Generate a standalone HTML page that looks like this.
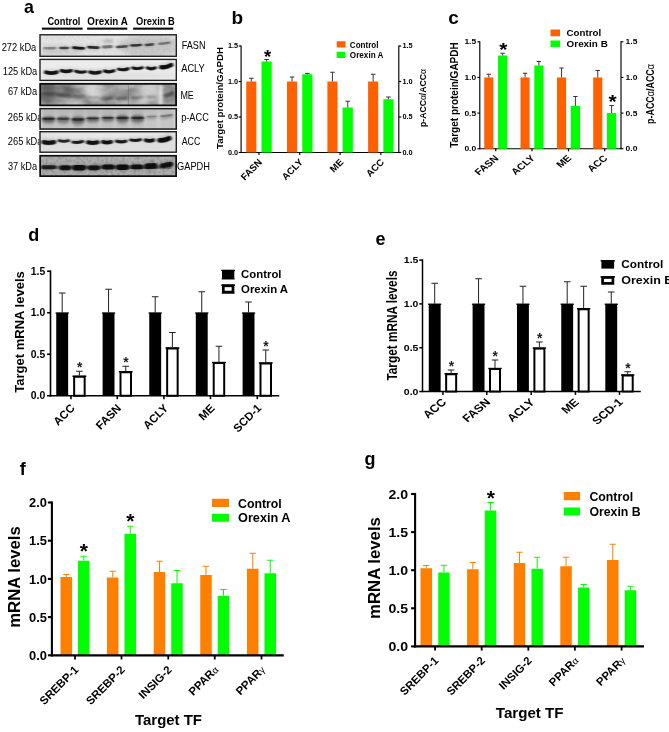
<!DOCTYPE html>
<html lang="en"><head><meta charset="utf-8"><title>Figure</title>
<style>html,body{margin:0;padding:0;background:#fff}svg{display:block}text{font-family:'Liberation Sans', Arial, Helvetica, sans-serif}</style>
</head><body>
<svg width="669" height="732" viewBox="0 0 669 732">
<rect width="669" height="732" fill="#fff"/>
<defs>
<filter id="b1" filterUnits="userSpaceOnUse" x="20" y="25" width="175" height="165"><feGaussianBlur stdDeviation="1.1 0.7"/></filter>
<filter id="b2" filterUnits="userSpaceOnUse" x="20" y="25" width="175" height="165"><feGaussianBlur stdDeviation="1.6 1.2"/></filter>
<filter id="b3" filterUnits="userSpaceOnUse" x="20" y="25" width="175" height="165"><feGaussianBlur stdDeviation="3 2.2"/></filter>
<filter id="nz" x="0" y="0" width="100%" height="100%"><feTurbulence type="fractalNoise" baseFrequency="0.05 0.09" numOctaves="3" seed="7" result="n"/><feColorMatrix in="n" type="matrix" values="0 0 0 0 0  0 0 0 0 0  0 0 0 0 0  1.9 0 0 0 -0.62"/></filter>
<filter id="nz2" x="0" y="0" width="100%" height="100%"><feTurbulence type="fractalNoise" baseFrequency="0.35" numOctaves="2" seed="3" result="n"/><feColorMatrix in="n" type="matrix" values="0 0 0 0 0  0 0 0 0 0  0 0 0 0 0  1.2 0 0 0 -0.45"/></filter>
</defs>
<text x="24" y="12.6" font-size="17.8" font-weight="bold" text-anchor="start" fill="#000">a</text>
<text x="47.4" y="24.8" font-size="11" font-weight="bold" text-anchor="start" fill="#000" textLength="33" lengthAdjust="spacingAndGlyphs">Control</text>
<text x="87.3" y="24.8" font-size="11" font-weight="bold" text-anchor="start" fill="#000" textLength="40.5" lengthAdjust="spacingAndGlyphs">Orexin A</text>
<text x="136" y="24.8" font-size="11" font-weight="bold" text-anchor="start" fill="#000" textLength="38.8" lengthAdjust="spacingAndGlyphs">Orexin B</text>
<rect x="41.90" y="27.60" width="40.70" height="2.10" fill="#0a0a0a"/>
<rect x="87.10" y="27.60" width="40.20" height="2.10" fill="#0a0a0a"/>
<rect x="133.10" y="27.60" width="40.20" height="2.10" fill="#0a0a0a"/>
<clipPath id="cb0"><rect x="39.8" y="34.6" width="136.70" height="21.90"/></clipPath>
<rect x="39.80" y="34.60" width="136.70" height="21.90" fill="#e3e3e3"/>
<g clip-path="url(#cb0)">
<ellipse cx="150" cy="46" rx="30" ry="12" fill="#999" opacity="0.35" filter="url(#b3)"/>
<ellipse cx="60" cy="52" rx="20" ry="5" fill="#aaa" opacity="0.3" filter="url(#b3)"/>
<ellipse cx="108" cy="41" rx="5" ry="1.4" fill="#666" opacity="0.4" filter="url(#b2)"/>
<rect x="39.8" y="34.6" width="136.70" height="21.9" fill="#444" filter="url(#nz2)" opacity="0.09"/>
<path d="M46.3,48.20 Q50.0,48.60 53.6,48.20" fill="none" stroke="#555" stroke-width="5.720000000000001" stroke-linecap="round" opacity="0.07919999999999999" filter="url(#b2)"/>
<path d="M44.7,48.00 Q50.0,48.40 55.2,48.00" fill="none" stroke="#0a0a0a" stroke-width="2.6" stroke-linecap="round" opacity="0.36" filter="url(#b1)"/>
<path d="M61.8,48.00 Q64.2,48.40 66.7,48.00" fill="none" stroke="#555" stroke-width="5.06" stroke-linecap="round" opacity="0.15839999999999999" filter="url(#b2)"/>
<path d="M60.4,47.80 Q64.2,48.20 68.0,47.80" fill="none" stroke="#0a0a0a" stroke-width="2.3" stroke-linecap="round" opacity="0.72" filter="url(#b1)"/>
<path d="M75.1,47.80 Q78.5,48.60 81.9,48.60" fill="none" stroke="#555" stroke-width="5.940000000000001" stroke-linecap="round" opacity="0.209" filter="url(#b2)"/>
<path d="M73.4,47.60 Q78.5,48.40 83.6,48.40" fill="none" stroke="#0a0a0a" stroke-width="2.7" stroke-linecap="round" opacity="0.95" filter="url(#b1)"/>
<path d="M90.2,47.40 Q93.3,48.00 96.5,47.80" fill="none" stroke="#555" stroke-width="6.16" stroke-linecap="round" opacity="0.187" filter="url(#b2)"/>
<path d="M88.5,47.20 Q93.3,47.80 98.2,47.60" fill="none" stroke="#0a0a0a" stroke-width="2.8" stroke-linecap="round" opacity="0.85" filter="url(#b1)"/>
<path d="M105.2,47.20 Q107.3,47.40 109.5,46.80" fill="none" stroke="#555" stroke-width="6.6000000000000005" stroke-linecap="round" opacity="0.1056" filter="url(#b2)"/>
<path d="M103.4,47.00 Q107.3,47.20 111.3,46.60" fill="none" stroke="#0a0a0a" stroke-width="3.0" stroke-linecap="round" opacity="0.48" filter="url(#b1)"/>
<path d="M118.7,47.20 Q121.9,47.20 125.2,46.40" fill="none" stroke="#555" stroke-width="5.5" stroke-linecap="round" opacity="0.1452" filter="url(#b2)"/>
<path d="M117.2,47.00 Q121.9,47.00 126.7,46.20" fill="none" stroke="#0a0a0a" stroke-width="2.5" stroke-linecap="round" opacity="0.66" filter="url(#b1)"/>
<path d="M132.6,45.60 Q136.1,45.70 139.5,45.00" fill="none" stroke="#555" stroke-width="5.06" stroke-linecap="round" opacity="0.18039999999999998" filter="url(#b2)"/>
<path d="M131.2,45.40 Q136.1,45.50 140.8,44.80" fill="none" stroke="#0a0a0a" stroke-width="2.3" stroke-linecap="round" opacity="0.82" filter="url(#b1)"/>
<path d="M147.4,45.10 Q149.4,45.20 151.4,44.50" fill="none" stroke="#555" stroke-width="5.5" stroke-linecap="round" opacity="0.1496" filter="url(#b2)"/>
<path d="M145.9,44.90 Q149.4,45.00 152.9,44.30" fill="none" stroke="#0a0a0a" stroke-width="2.5" stroke-linecap="round" opacity="0.68" filter="url(#b1)"/>
<path d="M160.5,44.00 Q164.2,43.80 168.0,42.80" fill="none" stroke="#555" stroke-width="5.06" stroke-linecap="round" opacity="0.0924" filter="url(#b2)"/>
<path d="M159.2,43.80 Q164.2,43.60 169.3,42.60" fill="none" stroke="#0a0a0a" stroke-width="2.3" stroke-linecap="round" opacity="0.42" filter="url(#b1)"/>
</g>
<rect x="40.00" y="34.80" width="136.30" height="21.50" fill="none" stroke="#222" stroke-width="1.4"/>
<clipPath id="cb1"><rect x="39.8" y="59.2" width="136.70" height="21.40"/></clipPath>
<rect x="39.80" y="59.20" width="136.70" height="21.40" fill="#ececec"/>
<g clip-path="url(#cb1)">
<ellipse cx="108" cy="76" rx="70" ry="4" fill="#ccc" opacity="0.35" filter="url(#b3)"/>
<path d="M47.0,71.40 Q51.4,73.40 55.7,71.40" fill="none" stroke="#444" stroke-width="5.940000000000001" stroke-linecap="round" opacity="0.14" filter="url(#b2)"/>
<path d="M45.9,72.30 Q51.4,74.10 56.8,72.30" fill="none" stroke="#0a0a0a" stroke-width="3.7840000000000003" stroke-linecap="round" opacity="0.97" filter="url(#b1)"/>
<path d="M62.2,69.70 Q66.2,71.70 70.3,69.70" fill="none" stroke="#444" stroke-width="5.13" stroke-linecap="round" opacity="0.14" filter="url(#b2)"/>
<path d="M61.2,70.60 Q66.2,72.40 71.3,70.60" fill="none" stroke="#0a0a0a" stroke-width="3.268" stroke-linecap="round" opacity="0.97" filter="url(#b1)"/>
<path d="M76.3,70.20 Q80.5,72.50 84.7,70.80" fill="none" stroke="#444" stroke-width="4.59" stroke-linecap="round" opacity="0.14" filter="url(#b2)"/>
<path d="M75.5,71.10 Q80.5,73.20 85.5,71.70" fill="none" stroke="#0a0a0a" stroke-width="2.924" stroke-linecap="round" opacity="0.95" filter="url(#b1)"/>
<path d="M91.0,71.20 Q95.1,73.20 99.2,71.20" fill="none" stroke="#444" stroke-width="5.4" stroke-linecap="round" opacity="0.14" filter="url(#b2)"/>
<path d="M90.0,72.10 Q95.1,73.90 100.2,72.10" fill="none" stroke="#0a0a0a" stroke-width="3.44" stroke-linecap="round" opacity="0.96" filter="url(#b1)"/>
<path d="M105.6,70.10 Q109.2,72.00 112.8,69.90" fill="none" stroke="#444" stroke-width="5.13" stroke-linecap="round" opacity="0.14" filter="url(#b2)"/>
<path d="M104.6,71.00 Q109.2,72.70 113.8,70.80" fill="none" stroke="#0a0a0a" stroke-width="3.268" stroke-linecap="round" opacity="0.97" filter="url(#b1)"/>
<path d="M119.4,68.20 Q123.3,70.00 127.2,67.80" fill="none" stroke="#444" stroke-width="4.86" stroke-linecap="round" opacity="0.14" filter="url(#b2)"/>
<path d="M118.5,69.10 Q123.3,70.70 128.1,68.70" fill="none" stroke="#0a0a0a" stroke-width="3.096" stroke-linecap="round" opacity="0.97" filter="url(#b1)"/>
<path d="M133.5,66.90 Q137.6,68.80 141.6,66.70" fill="none" stroke="#444" stroke-width="4.455" stroke-linecap="round" opacity="0.14" filter="url(#b2)"/>
<path d="M132.7,67.80 Q137.6,69.50 142.4,67.60" fill="none" stroke="#0a0a0a" stroke-width="2.8379999999999996" stroke-linecap="round" opacity="0.97" filter="url(#b1)"/>
<path d="M148.3,67.00 Q151.3,69.00 154.3,67.00" fill="none" stroke="#444" stroke-width="4.995000000000001" stroke-linecap="round" opacity="0.14" filter="url(#b2)"/>
<path d="M147.4,67.90 Q151.3,69.70 155.2,67.90" fill="none" stroke="#0a0a0a" stroke-width="3.182" stroke-linecap="round" opacity="0.97" filter="url(#b1)"/>
<path d="M162.5,66.30 Q166.2,67.20 169.9,64.10" fill="none" stroke="#444" stroke-width="6.75" stroke-linecap="round" opacity="0.14" filter="url(#b2)"/>
<path d="M161.2,67.20 Q166.2,67.90 171.2,65.00" fill="none" stroke="#0a0a0a" stroke-width="4.3" stroke-linecap="round" opacity="1" filter="url(#b1)"/>
</g>
<rect x="40.00" y="59.40" width="136.30" height="21.00" fill="none" stroke="#222" stroke-width="1.4"/>
<clipPath id="cb2"><rect x="39.8" y="83.4" width="136.70" height="22.40"/></clipPath>
<rect x="39.80" y="83.40" width="136.70" height="22.40" fill="#b2b2b2"/>
<g clip-path="url(#cb2)">
<rect x="39.8" y="83.4" width="136.70" height="22.4" fill="#222" filter="url(#nz)" opacity="0.45"/>
<ellipse cx="48" cy="93" rx="9" ry="12" fill="#333" opacity="0.55" filter="url(#b3)"/>
<ellipse cx="66" cy="89" rx="8" ry="6" fill="#444" opacity="0.45" filter="url(#b3)"/>
<ellipse cx="93" cy="92" rx="10" ry="9" fill="#eee" opacity="0.6" filter="url(#b3)"/>
<ellipse cx="108" cy="90" rx="8" ry="6" fill="#ddd" opacity="0.4" filter="url(#b3)"/>
<ellipse cx="150" cy="93" rx="10" ry="10" fill="#e8e8e8" opacity="0.55" filter="url(#b3)"/>
<ellipse cx="160.8" cy="95" rx="2.2" ry="12" fill="#fff" opacity="0.7" filter="url(#b2)"/>
<ellipse cx="169" cy="95" rx="5" ry="10" fill="#666" opacity="0.3" filter="url(#b3)"/>
<ellipse cx="120" cy="92" rx="8" ry="10" fill="#ccc" opacity="0.3" filter="url(#b3)"/>
<ellipse cx="140" cy="93" rx="8" ry="8" fill="#ddd" opacity="0.35" filter="url(#b3)"/>
<ellipse cx="75" cy="102" rx="12" ry="3" fill="#ddd" opacity="0.4" filter="url(#b3)"/>
<ellipse cx="134" cy="102" rx="14" ry="3" fill="#ddd" opacity="0.4" filter="url(#b3)"/>
<line x1="128.40" y1="85.00" x2="128.40" y2="105.00" stroke="#555" stroke-width="0.4"/>
<path d="M42.7,93.20 Q48.2,94.10 53.8,93.80" fill="none" stroke="#0a0a0a" stroke-width="2.4" stroke-linecap="round" opacity="0.42" filter="url(#b2)"/>
<path d="M57.8,94.80 Q63.2,95.70 68.7,95.40" fill="none" stroke="#0a0a0a" stroke-width="2.6" stroke-linecap="round" opacity="0.55" filter="url(#b2)"/>
<path d="M73.1,96.50 Q78.5,97.30 83.9,96.90" fill="none" stroke="#0a0a0a" stroke-width="2.2" stroke-linecap="round" opacity="0.4" filter="url(#b2)"/>
<path d="M88.0,97.30 Q93.0,97.90 98.0,97.30" fill="none" stroke="#0a0a0a" stroke-width="2.0" stroke-linecap="round" opacity="0.3" filter="url(#b2)"/>
<path d="M102.2,98.10 Q107.0,98.70 111.8,98.10" fill="none" stroke="#0a0a0a" stroke-width="2.4" stroke-linecap="round" opacity="0.36" filter="url(#b2)"/>
<path d="M117.3,98.30 Q122.0,98.70 126.7,97.90" fill="none" stroke="#0a0a0a" stroke-width="2.6" stroke-linecap="round" opacity="0.55" filter="url(#b2)"/>
<path d="M132.0,97.60 Q137.2,97.90 142.5,97.00" fill="none" stroke="#0a0a0a" stroke-width="2.0" stroke-linecap="round" opacity="0.38" filter="url(#b2)"/>
<path d="M147.0,97.00 Q150.5,97.50 154.0,96.80" fill="none" stroke="#0a0a0a" stroke-width="2.0" stroke-linecap="round" opacity="0.36" filter="url(#b2)"/>
<path d="M164.8,95.60 Q169.0,94.90 173.2,93.00" fill="none" stroke="#0a0a0a" stroke-width="2.6" stroke-linecap="round" opacity="0.6" filter="url(#b2)"/>
</g>
<rect x="40.20" y="83.80" width="135.90" height="21.60" fill="none" stroke="#0c0c0c" stroke-width="1.8"/>
<clipPath id="cb3"><rect x="39.8" y="108.4" width="136.70" height="20.90"/></clipPath>
<rect x="39.80" y="108.40" width="136.70" height="20.90" fill="#d4d4d4"/>
<g clip-path="url(#cb3)">
<ellipse cx="108" cy="111" rx="70" ry="3" fill="#aaa" opacity="0.35" filter="url(#b3)"/>
<rect x="41.8" y="109" width="13.5" height="20" fill="#777" opacity="0.24" filter="url(#b2)"/>
<path d="M46.3,119.90 Q48.5,120.10 50.8,119.90" fill="none" stroke="#3a3a3a" stroke-width="7.9799999999999995" stroke-linecap="round" opacity="0.342" filter="url(#b2)"/>
<path d="M44.2,119.40 Q48.5,119.60 52.9,119.40" fill="none" stroke="#0a0a0a" stroke-width="3.7800000000000002" stroke-linecap="round" opacity="0.49500000000000005" filter="url(#b2)"/>
<path d="M43.2,118.60 Q48.5,118.80 53.9,118.60" fill="none" stroke="#0a0a0a" stroke-width="1.8900000000000001" stroke-linecap="round" opacity="0.7200000000000001" filter="url(#b1)"/>
<rect x="56.5" y="109" width="13.5" height="20" fill="#777" opacity="0.21" filter="url(#b2)"/>
<path d="M61.6,120.00 Q63.2,120.20 64.9,120.00" fill="none" stroke="#3a3a3a" stroke-width="9.12" stroke-linecap="round" opacity="0.2508" filter="url(#b2)"/>
<path d="M59.2,119.50 Q63.2,119.70 67.3,119.50" fill="none" stroke="#0a0a0a" stroke-width="4.32" stroke-linecap="round" opacity="0.36300000000000004" filter="url(#b2)"/>
<path d="M58.1,118.70 Q63.2,118.90 68.4,118.70" fill="none" stroke="#0a0a0a" stroke-width="2.16" stroke-linecap="round" opacity="0.528" filter="url(#b1)"/>
<rect x="71.3" y="109" width="13.5" height="20" fill="#777" opacity="0.23" filter="url(#b2)"/>
<path d="M77.1,120.60 Q78.0,120.80 79.0,120.60" fill="none" stroke="#3a3a3a" stroke-width="10.639999999999999" stroke-linecap="round" opacity="0.30400000000000005" filter="url(#b2)"/>
<path d="M74.3,120.10 Q78.0,120.30 81.8,120.10" fill="none" stroke="#0a0a0a" stroke-width="5.04" stroke-linecap="round" opacity="0.44000000000000006" filter="url(#b2)"/>
<path d="M73.1,119.30 Q78.0,119.50 83.0,119.30" fill="none" stroke="#0a0a0a" stroke-width="2.52" stroke-linecap="round" opacity="0.6400000000000001" filter="url(#b1)"/>
<rect x="86.1" y="109" width="13.4" height="20" fill="#777" opacity="0.23" filter="url(#b2)"/>
<path d="M90.0,119.60 Q92.8,119.80 95.6,119.60" fill="none" stroke="#3a3a3a" stroke-width="6.84" stroke-linecap="round" opacity="0.30400000000000005" filter="url(#b2)"/>
<path d="M88.2,119.10 Q92.8,119.30 97.4,119.10" fill="none" stroke="#0a0a0a" stroke-width="3.24" stroke-linecap="round" opacity="0.44000000000000006" filter="url(#b2)"/>
<path d="M87.4,118.30 Q92.8,118.50 98.2,118.30" fill="none" stroke="#0a0a0a" stroke-width="1.62" stroke-linecap="round" opacity="0.6400000000000001" filter="url(#b1)"/>
<rect x="101.4" y="109" width="12.8" height="20" fill="#777" opacity="0.23" filter="url(#b2)"/>
<path d="M105.3,119.00 Q107.8,119.20 110.3,119.00" fill="none" stroke="#3a3a3a" stroke-width="6.84" stroke-linecap="round" opacity="0.3116" filter="url(#b2)"/>
<path d="M103.5,118.50 Q107.8,118.70 112.1,118.50" fill="none" stroke="#0a0a0a" stroke-width="3.24" stroke-linecap="round" opacity="0.451" filter="url(#b2)"/>
<path d="M102.7,117.70 Q107.8,117.90 112.9,117.70" fill="none" stroke="#0a0a0a" stroke-width="1.62" stroke-linecap="round" opacity="0.656" filter="url(#b1)"/>
<rect x="116.0" y="109" width="12.9" height="20" fill="#777" opacity="0.23" filter="url(#b2)"/>
<path d="M121.4,119.10 Q122.5,119.30 123.5,119.10" fill="none" stroke="#3a3a3a" stroke-width="9.879999999999999" stroke-linecap="round" opacity="0.3116" filter="url(#b2)"/>
<path d="M118.8,118.60 Q122.5,118.80 126.1,118.60" fill="none" stroke="#0a0a0a" stroke-width="4.680000000000001" stroke-linecap="round" opacity="0.451" filter="url(#b2)"/>
<path d="M117.7,117.80 Q122.5,118.00 127.2,117.80" fill="none" stroke="#0a0a0a" stroke-width="2.3400000000000003" stroke-linecap="round" opacity="0.656" filter="url(#b1)"/>
<rect x="130.8" y="109" width="13.5" height="20" fill="#777" opacity="0.23" filter="url(#b2)"/>
<path d="M136.2,119.10 Q137.6,119.30 138.9,119.10" fill="none" stroke="#3a3a3a" stroke-width="9.879999999999999" stroke-linecap="round" opacity="0.3116" filter="url(#b2)"/>
<path d="M133.6,118.60 Q137.6,118.80 141.5,118.60" fill="none" stroke="#0a0a0a" stroke-width="4.680000000000001" stroke-linecap="round" opacity="0.451" filter="url(#b2)"/>
<path d="M132.5,117.80 Q137.6,118.00 142.6,117.80" fill="none" stroke="#0a0a0a" stroke-width="2.3400000000000003" stroke-linecap="round" opacity="0.656" filter="url(#b1)"/>
<rect x="146.1" y="109" width="11.2" height="20" fill="#777" opacity="0.15" filter="url(#b2)"/>
<path d="M149.3,117.90 Q151.7,117.90 154.1,117.50" fill="none" stroke="#3a3a3a" stroke-width="5.319999999999999" stroke-linecap="round" opacity="0.11399999999999999" filter="url(#b2)"/>
<path d="M147.9,117.40 Q151.7,117.40 155.5,117.00" fill="none" stroke="#0a0a0a" stroke-width="2.52" stroke-linecap="round" opacity="0.165" filter="url(#b2)"/>
<path d="M147.4,116.60 Q151.7,116.60 156.0,116.20" fill="none" stroke="#0a0a0a" stroke-width="1.6" stroke-linecap="round" opacity="0.24" filter="url(#b1)"/>
<rect x="159.8" y="109" width="13.5" height="20" fill="#777" opacity="0.16" filter="url(#b2)"/>
<path d="M162.8,117.40 Q166.6,117.00 170.3,116.20" fill="none" stroke="#3a3a3a" stroke-width="4.9399999999999995" stroke-linecap="round" opacity="0.1368" filter="url(#b2)"/>
<path d="M161.5,116.90 Q166.6,116.50 171.6,115.70" fill="none" stroke="#0a0a0a" stroke-width="2.3400000000000003" stroke-linecap="round" opacity="0.198" filter="url(#b2)"/>
<path d="M161.1,116.10 Q166.6,115.70 172.0,114.90" fill="none" stroke="#0a0a0a" stroke-width="1.6" stroke-linecap="round" opacity="0.288" filter="url(#b1)"/>
</g>
<rect x="40.05" y="108.65" width="136.20" height="20.40" fill="none" stroke="#1a1a1a" stroke-width="1.5"/>
<clipPath id="cb4"><rect x="39.8" y="131.5" width="136.70" height="20.90"/></clipPath>
<rect x="39.80" y="131.50" width="136.70" height="20.90" fill="#dedede"/>
<g clip-path="url(#cb4)">
<ellipse cx="108" cy="136" rx="70" ry="3" fill="#fff" opacity="0.4" filter="url(#b3)"/>
<path d="M44.6,141.20 Q48.9,142.80 53.1,141.20" fill="none" stroke="#444" stroke-width="6.300000000000001" stroke-linecap="round" opacity="0.18" filter="url(#b2)"/>
<path d="M43.6,142.10 Q48.9,143.50 54.1,142.10" fill="none" stroke="#0a0a0a" stroke-width="4.2" stroke-linecap="round" opacity="0.97" filter="url(#b1)"/>
<path d="M59.8,139.80 Q63.8,141.40 67.9,139.80" fill="none" stroke="#444" stroke-width="4.35" stroke-linecap="round" opacity="0.18" filter="url(#b2)"/>
<path d="M59.1,140.70 Q63.8,142.10 68.6,140.70" fill="none" stroke="#0a0a0a" stroke-width="2.9" stroke-linecap="round" opacity="0.88" filter="url(#b1)"/>
<path d="M73.7,141.30 Q77.9,142.50 82.1,140.50" fill="none" stroke="#444" stroke-width="4.35" stroke-linecap="round" opacity="0.18" filter="url(#b2)"/>
<path d="M73.0,142.20 Q77.9,143.20 82.8,141.40" fill="none" stroke="#0a0a0a" stroke-width="2.9" stroke-linecap="round" opacity="0.93" filter="url(#b1)"/>
<path d="M89.2,141.40 Q92.8,143.00 96.4,141.40" fill="none" stroke="#444" stroke-width="6.300000000000001" stroke-linecap="round" opacity="0.18" filter="url(#b2)"/>
<path d="M88.1,142.30 Q92.8,143.70 97.5,142.30" fill="none" stroke="#0a0a0a" stroke-width="4.2" stroke-linecap="round" opacity="0.97" filter="url(#b1)"/>
<path d="M103.8,141.00 Q107.0,142.60 110.2,141.00" fill="none" stroke="#444" stroke-width="5.699999999999999" stroke-linecap="round" opacity="0.18" filter="url(#b2)"/>
<path d="M102.9,141.90 Q107.0,143.30 111.1,141.90" fill="none" stroke="#0a0a0a" stroke-width="3.8" stroke-linecap="round" opacity="0.97" filter="url(#b1)"/>
<path d="M117.4,140.30 Q121.2,141.90 125.0,140.30" fill="none" stroke="#444" stroke-width="4.65" stroke-linecap="round" opacity="0.18" filter="url(#b2)"/>
<path d="M116.6,141.20 Q121.2,142.60 125.8,141.20" fill="none" stroke="#0a0a0a" stroke-width="3.1" stroke-linecap="round" opacity="0.95" filter="url(#b1)"/>
<path d="M131.4,139.00 Q135.6,140.50 139.8,138.80" fill="none" stroke="#444" stroke-width="4.35" stroke-linecap="round" opacity="0.18" filter="url(#b2)"/>
<path d="M130.6,139.90 Q135.6,141.20 140.6,139.70" fill="none" stroke="#0a0a0a" stroke-width="2.9" stroke-linecap="round" opacity="0.94" filter="url(#b1)"/>
<path d="M146.7,139.30 Q149.4,140.90 152.2,139.30" fill="none" stroke="#444" stroke-width="5.699999999999999" stroke-linecap="round" opacity="0.18" filter="url(#b2)"/>
<path d="M145.7,140.20 Q149.4,141.60 153.2,140.20" fill="none" stroke="#0a0a0a" stroke-width="3.8" stroke-linecap="round" opacity="0.96" filter="url(#b1)"/>
<path d="M160.8,139.40 Q164.4,140.00 168.0,137.40" fill="none" stroke="#444" stroke-width="7.199999999999999" stroke-linecap="round" opacity="0.18" filter="url(#b2)"/>
<path d="M159.6,140.30 Q164.4,140.70 169.2,138.30" fill="none" stroke="#0a0a0a" stroke-width="4.8" stroke-linecap="round" opacity="1" filter="url(#b1)"/>
</g>
<rect x="40.00" y="131.70" width="136.30" height="20.50" fill="none" stroke="#222" stroke-width="1.4"/>
<clipPath id="cb5"><rect x="39.8" y="155.4" width="136.70" height="21.10"/></clipPath>
<rect x="39.80" y="155.40" width="136.70" height="21.10" fill="#afafaf"/>
<g clip-path="url(#cb5)">
<rect x="39.8" y="155.4" width="136.70" height="21.1" fill="#222" filter="url(#nz2)" opacity="0.3"/>
<rect x="42.8" y="165.6" width="128.70" height="3.2" fill="#222" opacity="0.5" filter="url(#b1)"/>
<path d="M44.2,167.20 Q48.5,167.20 52.7,167.20" fill="none" stroke="#333" stroke-width="6.48" stroke-linecap="round" opacity="0.25" filter="url(#b2)"/>
<path d="M43.0,167.20 Q48.5,167.20 53.9,167.20" fill="none" stroke="#0a0a0a" stroke-width="4.032000000000001" stroke-linecap="round" opacity="0.8" filter="url(#b1)"/>
<path d="M63.3,167.80 Q65.3,167.80 67.4,167.80" fill="none" stroke="#333" stroke-width="7.5600000000000005" stroke-linecap="round" opacity="0.25" filter="url(#b2)"/>
<path d="M61.9,167.80 Q65.3,167.80 68.8,167.80" fill="none" stroke="#0a0a0a" stroke-width="4.704000000000001" stroke-linecap="round" opacity="0.95" filter="url(#b1)"/>
<path d="M76.7,167.80 Q79.2,167.80 81.7,167.80" fill="none" stroke="#333" stroke-width="8.64" stroke-linecap="round" opacity="0.25" filter="url(#b2)"/>
<path d="M75.1,167.80 Q79.2,167.80 83.3,167.80" fill="none" stroke="#0a0a0a" stroke-width="5.376" stroke-linecap="round" opacity="0.98" filter="url(#b1)"/>
<path d="M91.6,167.80 Q94.0,167.80 96.3,167.80" fill="none" stroke="#333" stroke-width="7.74" stroke-linecap="round" opacity="0.25" filter="url(#b2)"/>
<path d="M90.1,167.80 Q94.0,167.80 97.8,167.80" fill="none" stroke="#0a0a0a" stroke-width="4.816" stroke-linecap="round" opacity="0.95" filter="url(#b1)"/>
<path d="M105.7,167.00 Q108.2,167.00 110.8,167.00" fill="none" stroke="#333" stroke-width="7.920000000000001" stroke-linecap="round" opacity="0.25" filter="url(#b2)"/>
<path d="M104.2,167.00 Q108.2,167.00 112.3,167.00" fill="none" stroke="#0a0a0a" stroke-width="4.928000000000001" stroke-linecap="round" opacity="0.96" filter="url(#b1)"/>
<path d="M120.3,167.20 Q122.5,167.20 124.7,167.20" fill="none" stroke="#333" stroke-width="8.64" stroke-linecap="round" opacity="0.25" filter="url(#b2)"/>
<path d="M118.7,167.20 Q122.5,167.20 126.3,167.20" fill="none" stroke="#0a0a0a" stroke-width="5.376" stroke-linecap="round" opacity="0.98" filter="url(#b1)"/>
<path d="M134.6,166.90 Q136.9,166.90 139.3,166.90" fill="none" stroke="#333" stroke-width="7.74" stroke-linecap="round" opacity="0.25" filter="url(#b2)"/>
<path d="M133.1,166.90 Q136.9,166.90 140.8,166.90" fill="none" stroke="#0a0a0a" stroke-width="4.816" stroke-linecap="round" opacity="0.97" filter="url(#b1)"/>
<path d="M148.8,166.30 Q150.9,166.10 152.9,165.90" fill="none" stroke="#333" stroke-width="9.0" stroke-linecap="round" opacity="0.25" filter="url(#b2)"/>
<path d="M147.1,166.30 Q150.9,166.10 154.6,165.90" fill="none" stroke="#0a0a0a" stroke-width="5.6000000000000005" stroke-linecap="round" opacity="0.98" filter="url(#b1)"/>
<path d="M163.5,165.70 Q166.5,164.90 169.5,164.10" fill="none" stroke="#333" stroke-width="7.5600000000000005" stroke-linecap="round" opacity="0.25" filter="url(#b2)"/>
<path d="M162.1,165.70 Q166.5,164.90 170.9,164.10" fill="none" stroke="#0a0a0a" stroke-width="4.704000000000001" stroke-linecap="round" opacity="0.96" filter="url(#b1)"/>
</g>
<rect x="40.15" y="155.75" width="136.00" height="20.40" fill="none" stroke="#0c0c0c" stroke-width="1.7"/>
<text x="1.7" y="51.1" font-size="10.5" font-weight="normal" text-anchor="start" fill="#000" textLength="34.6" lengthAdjust="spacingAndGlyphs">272 kDa</text>
<text x="2.8" y="74.9" font-size="10.5" font-weight="normal" text-anchor="start" fill="#000" textLength="34.4" lengthAdjust="spacingAndGlyphs">125 kDa</text>
<text x="7.9" y="95.1" font-size="10.5" font-weight="normal" text-anchor="start" fill="#000" textLength="29.3" lengthAdjust="spacingAndGlyphs">67 kDa</text>
<clipPath id="clk"><rect x="0" y="100" width="39.3" height="60"/></clipPath>
<g clip-path="url(#clk)">
<text x="7.8" y="121.0" font-size="10.5" font-weight="normal" text-anchor="start" fill="#000" textLength="34.6" lengthAdjust="spacingAndGlyphs">265 kDa</text>
<text x="7.8" y="144.6" font-size="10.5" font-weight="normal" text-anchor="start" fill="#000" textLength="34.6" lengthAdjust="spacingAndGlyphs">265 kDa</text>
</g>
<text x="7.9" y="169.7" font-size="10.5" font-weight="normal" text-anchor="start" fill="#000" textLength="29.2" lengthAdjust="spacingAndGlyphs">37 kDa</text>
<text x="181.7" y="48.6" font-size="11" font-weight="normal" text-anchor="start" fill="#000" textLength="23.8" lengthAdjust="spacingAndGlyphs">FASN</text>
<text x="181.2" y="71.5" font-size="11" font-weight="normal" text-anchor="start" fill="#000" textLength="23.6" lengthAdjust="spacingAndGlyphs">ACLY</text>
<text x="180.4" y="98.8" font-size="11" font-weight="normal" text-anchor="start" fill="#000" textLength="13.4" lengthAdjust="spacingAndGlyphs">ME</text>
<text x="181.2" y="121.4" font-size="11" font-weight="normal" text-anchor="start" fill="#000" textLength="27.6" lengthAdjust="spacingAndGlyphs">p-ACC</text>
<text x="181.7" y="145.0" font-size="11" font-weight="normal" text-anchor="start" fill="#000" textLength="18.6" lengthAdjust="spacingAndGlyphs">ACC</text>
<text x="177.0" y="170.4" font-size="11" font-weight="normal" text-anchor="start" fill="#000" textLength="33.0" lengthAdjust="spacingAndGlyphs">GAPDH</text>
<text x="231.5" y="24.2" font-size="19" font-weight="bold" text-anchor="start" fill="#000">b</text>
<line x1="241.00" y1="152.50" x2="398.80" y2="152.50" stroke="#000" stroke-width="1.1"/>
<rect x="246.25" y="81.50" width="10.10" height="71.00" fill="#ff6000"/>
<line x1="251.30" y1="78.25" x2="251.30" y2="81.50" stroke="#222" stroke-width="0.9"/>
<line x1="249.00" y1="78.25" x2="253.60" y2="78.25" stroke="#222" stroke-width="0.9"/>
<rect x="261.50" y="61.50" width="10.20" height="91.00" fill="#00ff00"/>
<line x1="266.60" y1="59.50" x2="266.60" y2="61.50" stroke="#222" stroke-width="0.9"/>
<line x1="264.30" y1="59.50" x2="268.90" y2="59.50" stroke="#222" stroke-width="0.9"/>
<line x1="258.98" y1="152.50" x2="258.98" y2="155.10" stroke="#000" stroke-width="1.2"/>
<rect x="287.00" y="81.50" width="10.10" height="71.00" fill="#ff6000"/>
<line x1="292.05" y1="77.00" x2="292.05" y2="81.50" stroke="#222" stroke-width="0.9"/>
<line x1="289.75" y1="77.00" x2="294.35" y2="77.00" stroke="#222" stroke-width="0.9"/>
<rect x="302.25" y="74.30" width="10.20" height="78.20" fill="#00ff00"/>
<line x1="307.35" y1="73.40" x2="307.35" y2="74.30" stroke="#222" stroke-width="0.9"/>
<line x1="305.05" y1="73.40" x2="309.65" y2="73.40" stroke="#222" stroke-width="0.9"/>
<line x1="299.73" y1="152.50" x2="299.73" y2="155.10" stroke="#000" stroke-width="1.2"/>
<rect x="327.40" y="81.50" width="10.10" height="71.00" fill="#ff6000"/>
<line x1="332.45" y1="72.25" x2="332.45" y2="81.50" stroke="#222" stroke-width="0.9"/>
<line x1="330.15" y1="72.25" x2="334.75" y2="72.25" stroke="#222" stroke-width="0.9"/>
<rect x="342.65" y="107.50" width="10.20" height="45.00" fill="#00ff00"/>
<line x1="347.75" y1="101.25" x2="347.75" y2="107.50" stroke="#222" stroke-width="0.9"/>
<line x1="345.45" y1="101.25" x2="350.05" y2="101.25" stroke="#222" stroke-width="0.9"/>
<line x1="340.12" y1="152.50" x2="340.12" y2="155.10" stroke="#000" stroke-width="1.2"/>
<rect x="368.10" y="81.50" width="10.10" height="71.00" fill="#ff6000"/>
<line x1="373.15" y1="74.25" x2="373.15" y2="81.50" stroke="#222" stroke-width="0.9"/>
<line x1="370.85" y1="74.25" x2="375.45" y2="74.25" stroke="#222" stroke-width="0.9"/>
<rect x="383.35" y="99.20" width="10.20" height="53.30" fill="#00ff00"/>
<line x1="388.45" y1="97.00" x2="388.45" y2="99.20" stroke="#222" stroke-width="0.9"/>
<line x1="386.15" y1="97.00" x2="390.75" y2="97.00" stroke="#222" stroke-width="0.9"/>
<line x1="380.83" y1="152.50" x2="380.83" y2="155.10" stroke="#000" stroke-width="1.2"/>
<line x1="241.10" y1="45.42" x2="241.10" y2="153.07" stroke="#000" stroke-width="1.15"/>
<line x1="238.70" y1="46.00" x2="241.10" y2="46.00" stroke="#000" stroke-width="1.15"/>
<text x="238.2" y="48.336" font-size="7.3" font-weight="bold" text-anchor="end" fill="#000">1.5</text>
<line x1="238.70" y1="81.50" x2="241.10" y2="81.50" stroke="#000" stroke-width="1.15"/>
<text x="238.2" y="83.836" font-size="7.3" font-weight="bold" text-anchor="end" fill="#000">1.0</text>
<line x1="238.70" y1="117.00" x2="241.10" y2="117.00" stroke="#000" stroke-width="1.15"/>
<text x="238.2" y="119.336" font-size="7.3" font-weight="bold" text-anchor="end" fill="#000">0.5</text>
<line x1="238.70" y1="152.50" x2="241.10" y2="152.50" stroke="#000" stroke-width="1.15"/>
<text x="238.2" y="154.836" font-size="7.3" font-weight="bold" text-anchor="end" fill="#000">0.0</text>
<line x1="398.80" y1="45.42" x2="398.80" y2="153.07" stroke="#000" stroke-width="1.15"/>
<line x1="398.80" y1="46.00" x2="401.20" y2="46.00" stroke="#000" stroke-width="1.15"/>
<text x="402.4" y="48.336" font-size="7.3" font-weight="bold" text-anchor="start" fill="#000">1.5</text>
<line x1="398.80" y1="81.50" x2="401.20" y2="81.50" stroke="#000" stroke-width="1.15"/>
<text x="402.4" y="83.836" font-size="7.3" font-weight="bold" text-anchor="start" fill="#000">1.0</text>
<line x1="398.80" y1="117.00" x2="401.20" y2="117.00" stroke="#000" stroke-width="1.15"/>
<text x="402.4" y="119.336" font-size="7.3" font-weight="bold" text-anchor="start" fill="#000">0.5</text>
<line x1="398.80" y1="152.50" x2="401.20" y2="152.50" stroke="#000" stroke-width="1.15"/>
<text x="402.4" y="154.836" font-size="7.3" font-weight="bold" text-anchor="start" fill="#000">0.0</text>
<text transform="translate(223.2,98) rotate(-90)" font-size="9.6" font-weight="bold" text-anchor="middle" fill="#000" textLength="102" lengthAdjust="spacingAndGlyphs">Target protein/GAPDH</text>
<text transform="translate(426.2,98) rotate(-90)" font-size="8.6" font-weight="bold" text-anchor="middle" fill="#000" textLength="58" lengthAdjust="spacingAndGlyphs">p-ACC<tspan font-weight="normal">α</tspan>/ACC<tspan font-weight="normal">α</tspan></text>
<rect x="336.75" y="41.25" width="8.75" height="6.25" fill="#ff6000"/>
<rect x="336.75" y="51.75" width="8.75" height="6.25" fill="#00ff00"/>
<text x="349.8" y="47.6" font-size="8.7" font-weight="bold" text-anchor="start" fill="#000" textLength="28.7" lengthAdjust="spacingAndGlyphs">Control</text>
<text x="349.8" y="58.1" font-size="8.7" font-weight="bold" text-anchor="start" fill="#000" textLength="33.7" lengthAdjust="spacingAndGlyphs">Orexin A</text>
<text x="267.5" y="63.4" font-size="18.5" font-weight="bold" text-anchor="middle" fill="#000">*</text>
<text transform="translate(262.75,162.8) rotate(-45)" font-size="9.6" font-weight="bold" text-anchor="end" fill="#000">FASN</text>
<text transform="translate(303.5,162.8) rotate(-45)" font-size="9.6" font-weight="bold" text-anchor="end" fill="#000">ACLY</text>
<text transform="translate(343.9,162.8) rotate(-45)" font-size="9.6" font-weight="bold" text-anchor="end" fill="#000">ME</text>
<text transform="translate(384.6,162.8) rotate(-45)" font-size="9.6" font-weight="bold" text-anchor="end" fill="#000">ACC</text>
<text x="448.2" y="23.5" font-size="19" font-weight="bold" text-anchor="start" fill="#000">c</text>
<line x1="479.80" y1="148.75" x2="621.00" y2="148.75" stroke="#000" stroke-width="1.1"/>
<rect x="484.25" y="77.45" width="9.10" height="71.30" fill="#ff6000"/>
<line x1="488.80" y1="74.25" x2="488.80" y2="77.45" stroke="#222" stroke-width="0.9"/>
<line x1="486.60" y1="74.25" x2="491.00" y2="74.25" stroke="#222" stroke-width="0.9"/>
<rect x="498.05" y="55.50" width="9.20" height="93.25" fill="#00ff00"/>
<line x1="502.65" y1="53.25" x2="502.65" y2="55.50" stroke="#222" stroke-width="0.9"/>
<line x1="500.45" y1="53.25" x2="504.85" y2="53.25" stroke="#222" stroke-width="0.9"/>
<line x1="495.75" y1="148.75" x2="495.75" y2="151.35" stroke="#000" stroke-width="1.2"/>
<rect x="520.50" y="77.45" width="9.10" height="71.30" fill="#ff6000"/>
<line x1="525.05" y1="73.25" x2="525.05" y2="77.45" stroke="#222" stroke-width="0.9"/>
<line x1="522.85" y1="73.25" x2="527.25" y2="73.25" stroke="#222" stroke-width="0.9"/>
<rect x="534.30" y="65.50" width="9.20" height="83.25" fill="#00ff00"/>
<line x1="538.90" y1="61.50" x2="538.90" y2="65.50" stroke="#222" stroke-width="0.9"/>
<line x1="536.70" y1="61.50" x2="541.10" y2="61.50" stroke="#222" stroke-width="0.9"/>
<line x1="532.00" y1="148.75" x2="532.00" y2="151.35" stroke="#000" stroke-width="1.2"/>
<rect x="557.00" y="77.45" width="9.10" height="71.30" fill="#ff6000"/>
<line x1="561.55" y1="68.00" x2="561.55" y2="77.45" stroke="#222" stroke-width="0.9"/>
<line x1="559.35" y1="68.00" x2="563.75" y2="68.00" stroke="#222" stroke-width="0.9"/>
<rect x="570.80" y="106.00" width="9.20" height="42.75" fill="#00ff00"/>
<line x1="575.40" y1="96.50" x2="575.40" y2="106.00" stroke="#222" stroke-width="0.9"/>
<line x1="573.20" y1="96.50" x2="577.60" y2="96.50" stroke="#222" stroke-width="0.9"/>
<line x1="568.50" y1="148.75" x2="568.50" y2="151.35" stroke="#000" stroke-width="1.2"/>
<rect x="593.20" y="77.45" width="9.10" height="71.30" fill="#ff6000"/>
<line x1="597.75" y1="70.50" x2="597.75" y2="77.45" stroke="#222" stroke-width="0.9"/>
<line x1="595.55" y1="70.50" x2="599.95" y2="70.50" stroke="#222" stroke-width="0.9"/>
<rect x="607.00" y="113.00" width="9.20" height="35.75" fill="#00ff00"/>
<line x1="611.60" y1="105.50" x2="611.60" y2="113.00" stroke="#222" stroke-width="0.9"/>
<line x1="609.40" y1="105.50" x2="613.80" y2="105.50" stroke="#222" stroke-width="0.9"/>
<line x1="604.70" y1="148.75" x2="604.70" y2="151.35" stroke="#000" stroke-width="1.2"/>
<line x1="479.80" y1="41.23" x2="479.80" y2="149.32" stroke="#000" stroke-width="1.15"/>
<line x1="477.40" y1="41.80" x2="479.80" y2="41.80" stroke="#000" stroke-width="1.15"/>
<text x="476.2" y="44.46400000000001" font-size="7.4" font-weight="bold" text-anchor="end" fill="#000" textLength="11.8" lengthAdjust="spacingAndGlyphs">1.5</text>
<line x1="477.40" y1="77.45" x2="479.80" y2="77.45" stroke="#000" stroke-width="1.15"/>
<text x="476.2" y="80.114" font-size="7.4" font-weight="bold" text-anchor="end" fill="#000" textLength="11.8" lengthAdjust="spacingAndGlyphs">1.0</text>
<line x1="477.40" y1="113.10" x2="479.80" y2="113.10" stroke="#000" stroke-width="1.15"/>
<text x="476.2" y="115.764" font-size="7.4" font-weight="bold" text-anchor="end" fill="#000" textLength="11.8" lengthAdjust="spacingAndGlyphs">0.5</text>
<line x1="477.40" y1="148.75" x2="479.80" y2="148.75" stroke="#000" stroke-width="1.15"/>
<text x="476.2" y="151.414" font-size="7.4" font-weight="bold" text-anchor="end" fill="#000" textLength="11.8" lengthAdjust="spacingAndGlyphs">0.0</text>
<line x1="621.00" y1="41.23" x2="621.00" y2="149.32" stroke="#000" stroke-width="1.15"/>
<line x1="621.00" y1="41.80" x2="623.40" y2="41.80" stroke="#000" stroke-width="1.15"/>
<text x="625.6" y="44.46400000000001" font-size="7.4" font-weight="bold" text-anchor="start" fill="#000" textLength="11.8" lengthAdjust="spacingAndGlyphs">1.5</text>
<line x1="621.00" y1="77.45" x2="623.40" y2="77.45" stroke="#000" stroke-width="1.15"/>
<text x="625.6" y="80.114" font-size="7.4" font-weight="bold" text-anchor="start" fill="#000" textLength="11.8" lengthAdjust="spacingAndGlyphs">1.0</text>
<line x1="621.00" y1="113.10" x2="623.40" y2="113.10" stroke="#000" stroke-width="1.15"/>
<text x="625.6" y="115.764" font-size="7.4" font-weight="bold" text-anchor="start" fill="#000" textLength="11.8" lengthAdjust="spacingAndGlyphs">0.5</text>
<line x1="621.00" y1="148.75" x2="623.40" y2="148.75" stroke="#000" stroke-width="1.15"/>
<text x="625.6" y="151.414" font-size="7.4" font-weight="bold" text-anchor="start" fill="#000" textLength="11.8" lengthAdjust="spacingAndGlyphs">0.0</text>
<text transform="translate(458.2,95) rotate(-90)" font-size="10.9" font-weight="bold" text-anchor="middle" fill="#000" textLength="105.5" lengthAdjust="spacingAndGlyphs">Target protein/GAPDH</text>
<text transform="translate(653.8,94) rotate(-90)" font-size="10.0" font-weight="bold" text-anchor="middle" fill="#000" textLength="60" lengthAdjust="spacingAndGlyphs">p-ACC<tspan font-weight="normal">α</tspan>/ACC<tspan font-weight="normal">α</tspan></text>
<rect x="550.50" y="29.50" width="9.50" height="6.75" fill="#ff6000"/>
<rect x="550.50" y="40.50" width="9.50" height="6.50" fill="#00ff00"/>
<text x="566.6" y="36.3" font-size="8.8" font-weight="bold" text-anchor="start" fill="#000" textLength="34.5" lengthAdjust="spacingAndGlyphs">Control</text>
<text x="566.6" y="47.1" font-size="8.8" font-weight="bold" text-anchor="start" fill="#000" textLength="41.2" lengthAdjust="spacingAndGlyphs">Orexin B</text>
<text transform="translate(503.4,55.6) scale(1.2,1)" font-size="17.5" font-weight="bold" text-anchor="middle" fill="#000">*</text>
<text transform="translate(612.5,108.1) scale(1.2,1)" font-size="17.5" font-weight="bold" text-anchor="middle" fill="#000">*</text>
<text transform="translate(499.35,158.8) scale(1.2,1) rotate(-45)" font-size="9.0" font-weight="bold" text-anchor="end" fill="#000">FASN</text>
<text transform="translate(535.6,158.8) scale(1.2,1) rotate(-45)" font-size="9.0" font-weight="bold" text-anchor="end" fill="#000">ACLY</text>
<text transform="translate(572.1,158.8) scale(1.2,1) rotate(-45)" font-size="9.0" font-weight="bold" text-anchor="end" fill="#000">ME</text>
<text transform="translate(608.3000000000001,158.8) scale(1.2,1) rotate(-45)" font-size="9.0" font-weight="bold" text-anchor="end" fill="#000">ACC</text>
<text x="28.2" y="241.2" font-size="18" font-weight="bold" text-anchor="start" fill="#000">d</text>
<line x1="50.50" y1="395.75" x2="279.25" y2="395.75" stroke="#000" stroke-width="1.6"/>
<rect x="56.25" y="312.75" width="11.90" height="83.00" fill="#000"/>
<line x1="55.55" y1="313.05" x2="68.85" y2="313.05" stroke="#000" stroke-width="1.2"/>
<line x1="62.20" y1="293.00" x2="62.20" y2="312.75" stroke="#222" stroke-width="1.0"/>
<line x1="58.90" y1="293.00" x2="65.50" y2="293.00" stroke="#222" stroke-width="1.0"/>
<rect x="74.15" y="376.75" width="10.50" height="19.00" fill="#fff" stroke="#000" stroke-width="2.0"/>
<line x1="72.45" y1="376.25" x2="86.35" y2="376.25" stroke="#000" stroke-width="1.4"/>
<line x1="79.40" y1="371.25" x2="79.40" y2="375.75" stroke="#222" stroke-width="1.0"/>
<line x1="76.10" y1="371.25" x2="82.70" y2="371.25" stroke="#222" stroke-width="1.0"/>
<line x1="70.95" y1="395.75" x2="70.95" y2="399.15" stroke="#000" stroke-width="1.6"/>
<text x="79.7" y="372.35" font-size="13.8" font-weight="bold" text-anchor="middle" fill="#222">*</text>
<rect x="102.60" y="312.75" width="11.90" height="83.00" fill="#000"/>
<line x1="101.90" y1="313.05" x2="115.20" y2="313.05" stroke="#000" stroke-width="1.2"/>
<line x1="108.55" y1="289.25" x2="108.55" y2="312.75" stroke="#222" stroke-width="1.0"/>
<line x1="105.25" y1="289.25" x2="111.85" y2="289.25" stroke="#222" stroke-width="1.0"/>
<rect x="120.50" y="372.25" width="10.50" height="23.50" fill="#fff" stroke="#000" stroke-width="2.0"/>
<line x1="118.80" y1="371.75" x2="132.70" y2="371.75" stroke="#000" stroke-width="1.4"/>
<line x1="125.75" y1="366.25" x2="125.75" y2="371.25" stroke="#222" stroke-width="1.0"/>
<line x1="122.45" y1="366.25" x2="129.05" y2="366.25" stroke="#222" stroke-width="1.0"/>
<line x1="117.30" y1="395.75" x2="117.30" y2="399.15" stroke="#000" stroke-width="1.6"/>
<text x="126.05" y="367.35" font-size="13.8" font-weight="bold" text-anchor="middle" fill="#222">*</text>
<rect x="149.25" y="312.75" width="11.90" height="83.00" fill="#000"/>
<line x1="148.55" y1="313.05" x2="161.85" y2="313.05" stroke="#000" stroke-width="1.2"/>
<line x1="155.20" y1="296.75" x2="155.20" y2="312.75" stroke="#222" stroke-width="1.0"/>
<line x1="151.90" y1="296.75" x2="158.50" y2="296.75" stroke="#222" stroke-width="1.0"/>
<rect x="167.15" y="348.50" width="10.50" height="47.25" fill="#fff" stroke="#000" stroke-width="2.0"/>
<line x1="165.45" y1="348.00" x2="179.35" y2="348.00" stroke="#000" stroke-width="1.4"/>
<line x1="172.40" y1="332.50" x2="172.40" y2="347.50" stroke="#222" stroke-width="1.0"/>
<line x1="169.10" y1="332.50" x2="175.70" y2="332.50" stroke="#222" stroke-width="1.0"/>
<line x1="163.95" y1="395.75" x2="163.95" y2="399.15" stroke="#000" stroke-width="1.6"/>
<rect x="195.80" y="312.75" width="11.90" height="83.00" fill="#000"/>
<line x1="195.10" y1="313.05" x2="208.40" y2="313.05" stroke="#000" stroke-width="1.2"/>
<line x1="201.75" y1="291.75" x2="201.75" y2="312.75" stroke="#222" stroke-width="1.0"/>
<line x1="198.45" y1="291.75" x2="205.05" y2="291.75" stroke="#222" stroke-width="1.0"/>
<rect x="213.70" y="363.00" width="10.50" height="32.75" fill="#fff" stroke="#000" stroke-width="2.0"/>
<line x1="212.00" y1="362.50" x2="225.90" y2="362.50" stroke="#000" stroke-width="1.4"/>
<line x1="218.95" y1="346.25" x2="218.95" y2="362.00" stroke="#222" stroke-width="1.0"/>
<line x1="215.65" y1="346.25" x2="222.25" y2="346.25" stroke="#222" stroke-width="1.0"/>
<line x1="210.50" y1="395.75" x2="210.50" y2="399.15" stroke="#000" stroke-width="1.6"/>
<rect x="242.60" y="312.75" width="11.90" height="83.00" fill="#000"/>
<line x1="241.90" y1="313.05" x2="255.20" y2="313.05" stroke="#000" stroke-width="1.2"/>
<line x1="248.55" y1="302.00" x2="248.55" y2="312.75" stroke="#222" stroke-width="1.0"/>
<line x1="245.25" y1="302.00" x2="251.85" y2="302.00" stroke="#222" stroke-width="1.0"/>
<rect x="260.50" y="363.50" width="10.50" height="32.25" fill="#fff" stroke="#000" stroke-width="2.0"/>
<line x1="258.80" y1="363.00" x2="272.70" y2="363.00" stroke="#000" stroke-width="1.4"/>
<line x1="265.75" y1="350.00" x2="265.75" y2="362.50" stroke="#222" stroke-width="1.0"/>
<line x1="262.45" y1="350.00" x2="269.05" y2="350.00" stroke="#222" stroke-width="1.0"/>
<line x1="257.30" y1="395.75" x2="257.30" y2="399.15" stroke="#000" stroke-width="1.6"/>
<text x="266.05" y="351.1" font-size="13.8" font-weight="bold" text-anchor="middle" fill="#222">*</text>
<line x1="50.50" y1="270.45" x2="50.50" y2="396.55" stroke="#000" stroke-width="1.6"/>
<line x1="47.10" y1="271.25" x2="50.50" y2="271.25" stroke="#000" stroke-width="1.6"/>
<text x="45.2" y="274.994" font-size="10.4" font-weight="bold" text-anchor="end" fill="#000">1.5</text>
<line x1="47.10" y1="312.75" x2="50.50" y2="312.75" stroke="#000" stroke-width="1.6"/>
<text x="45.2" y="316.494" font-size="10.4" font-weight="bold" text-anchor="end" fill="#000">1.0</text>
<line x1="47.10" y1="354.25" x2="50.50" y2="354.25" stroke="#000" stroke-width="1.6"/>
<text x="45.2" y="357.994" font-size="10.4" font-weight="bold" text-anchor="end" fill="#000">0.5</text>
<line x1="47.10" y1="395.75" x2="50.50" y2="395.75" stroke="#000" stroke-width="1.6"/>
<text x="45.2" y="399.494" font-size="10.4" font-weight="bold" text-anchor="end" fill="#000">0.0</text>
<text transform="translate(24.4,332) rotate(-90)" font-size="12.2" font-weight="bold" text-anchor="middle" fill="#000" textLength="121.5" lengthAdjust="spacingAndGlyphs">Target mRNA levels</text>
<rect x="222.00" y="269.90" width="12.30" height="9.30" fill="#000"/>
<rect x="223.3" y="285.8" width="9.7" height="6.3" fill="#fff" stroke="#000" stroke-width="2.7"/>
<line x1="221.30" y1="270.50" x2="235.00" y2="270.50" stroke="#000" stroke-width="1.4"/>
<line x1="221.30" y1="285.20" x2="235.00" y2="285.20" stroke="#000" stroke-width="1.5"/>
<line x1="221.60" y1="278.90" x2="234.70" y2="278.90" stroke="#000" stroke-width="0.9"/>
<line x1="221.60" y1="293.10" x2="234.70" y2="293.10" stroke="#000" stroke-width="0.9"/>
<text x="241.1" y="278.4" font-size="11.5" font-weight="bold" text-anchor="start" fill="#000" textLength="40.4" lengthAdjust="spacingAndGlyphs">Control</text>
<text x="241.1" y="293.2" font-size="11.5" font-weight="bold" text-anchor="start" fill="#000" textLength="47" lengthAdjust="spacingAndGlyphs">Orexin A</text>
<text transform="translate(75.5,408.8) rotate(-45)" font-size="11.4" font-weight="bold" text-anchor="end" fill="#000">ACC</text>
<text transform="translate(121.89999999999999,408.8) rotate(-45)" font-size="11.4" font-weight="bold" text-anchor="end" fill="#000">FASN</text>
<text transform="translate(168.85,408.8) rotate(-45)" font-size="11.4" font-weight="bold" text-anchor="end" fill="#000">ACLY</text>
<text transform="translate(215.35,408.8) rotate(-45)" font-size="11.4" font-weight="bold" text-anchor="end" fill="#000">ME</text>
<text transform="translate(262.1,408.8) rotate(-45)" font-size="11.4" font-weight="bold" text-anchor="end" fill="#000">SCD-1</text>
<text x="375.4" y="245.2" font-size="18" font-weight="bold" text-anchor="start" fill="#000">e</text>
<line x1="422.50" y1="391.50" x2="640.75" y2="391.50" stroke="#000" stroke-width="1.5"/>
<rect x="428.75" y="303.90" width="11.90" height="87.60" fill="#000"/>
<line x1="428.05" y1="304.20" x2="441.35" y2="304.20" stroke="#000" stroke-width="1.2"/>
<line x1="434.70" y1="283.25" x2="434.70" y2="303.90" stroke="#222" stroke-width="1.0"/>
<line x1="431.40" y1="283.25" x2="438.00" y2="283.25" stroke="#222" stroke-width="1.0"/>
<rect x="446.15" y="374.25" width="10.00" height="17.25" fill="#fff" stroke="#000" stroke-width="2.0"/>
<line x1="444.45" y1="373.75" x2="457.85" y2="373.75" stroke="#000" stroke-width="1.4"/>
<line x1="451.15" y1="370.00" x2="451.15" y2="373.25" stroke="#222" stroke-width="1.0"/>
<line x1="447.85" y1="370.00" x2="454.45" y2="370.00" stroke="#222" stroke-width="1.0"/>
<line x1="442.95" y1="391.50" x2="442.95" y2="394.90" stroke="#000" stroke-width="1.5"/>
<text x="451.45" y="371.1" font-size="13.8" font-weight="bold" text-anchor="middle" fill="#222">*</text>
<rect x="472.60" y="303.90" width="11.90" height="87.60" fill="#000"/>
<line x1="471.90" y1="304.20" x2="485.20" y2="304.20" stroke="#000" stroke-width="1.2"/>
<line x1="478.55" y1="278.75" x2="478.55" y2="303.90" stroke="#222" stroke-width="1.0"/>
<line x1="475.25" y1="278.75" x2="481.85" y2="278.75" stroke="#222" stroke-width="1.0"/>
<rect x="490.00" y="369.00" width="10.00" height="22.50" fill="#fff" stroke="#000" stroke-width="2.0"/>
<line x1="488.30" y1="368.50" x2="501.70" y2="368.50" stroke="#000" stroke-width="1.4"/>
<line x1="495.00" y1="360.00" x2="495.00" y2="368.00" stroke="#222" stroke-width="1.0"/>
<line x1="491.70" y1="360.00" x2="498.30" y2="360.00" stroke="#222" stroke-width="1.0"/>
<line x1="486.80" y1="391.50" x2="486.80" y2="394.90" stroke="#000" stroke-width="1.5"/>
<text x="495.3" y="361.1" font-size="13.8" font-weight="bold" text-anchor="middle" fill="#222">*</text>
<rect x="517.00" y="303.90" width="11.90" height="87.60" fill="#000"/>
<line x1="516.30" y1="304.20" x2="529.60" y2="304.20" stroke="#000" stroke-width="1.2"/>
<line x1="522.95" y1="286.25" x2="522.95" y2="303.90" stroke="#222" stroke-width="1.0"/>
<line x1="519.65" y1="286.25" x2="526.25" y2="286.25" stroke="#222" stroke-width="1.0"/>
<rect x="534.40" y="348.60" width="10.00" height="42.90" fill="#fff" stroke="#000" stroke-width="2.0"/>
<line x1="532.70" y1="348.10" x2="546.10" y2="348.10" stroke="#000" stroke-width="1.4"/>
<line x1="539.40" y1="342.00" x2="539.40" y2="347.60" stroke="#222" stroke-width="1.0"/>
<line x1="536.10" y1="342.00" x2="542.70" y2="342.00" stroke="#222" stroke-width="1.0"/>
<line x1="531.20" y1="391.50" x2="531.20" y2="394.90" stroke="#000" stroke-width="1.5"/>
<text x="539.6999999999999" y="343.1" font-size="13.8" font-weight="bold" text-anchor="middle" fill="#222">*</text>
<rect x="561.25" y="303.90" width="11.90" height="87.60" fill="#000"/>
<line x1="560.55" y1="304.20" x2="573.85" y2="304.20" stroke="#000" stroke-width="1.2"/>
<line x1="567.20" y1="281.75" x2="567.20" y2="303.90" stroke="#222" stroke-width="1.0"/>
<line x1="563.90" y1="281.75" x2="570.50" y2="281.75" stroke="#222" stroke-width="1.0"/>
<rect x="578.65" y="309.25" width="10.00" height="82.25" fill="#fff" stroke="#000" stroke-width="2.0"/>
<line x1="576.95" y1="308.75" x2="590.35" y2="308.75" stroke="#000" stroke-width="1.4"/>
<line x1="583.65" y1="286.25" x2="583.65" y2="308.25" stroke="#222" stroke-width="1.0"/>
<line x1="580.35" y1="286.25" x2="586.95" y2="286.25" stroke="#222" stroke-width="1.0"/>
<line x1="575.45" y1="391.50" x2="575.45" y2="394.90" stroke="#000" stroke-width="1.5"/>
<rect x="605.30" y="303.90" width="11.90" height="87.60" fill="#000"/>
<line x1="604.60" y1="304.20" x2="617.90" y2="304.20" stroke="#000" stroke-width="1.2"/>
<line x1="611.25" y1="292.00" x2="611.25" y2="303.90" stroke="#222" stroke-width="1.0"/>
<line x1="607.95" y1="292.00" x2="614.55" y2="292.00" stroke="#222" stroke-width="1.0"/>
<rect x="622.70" y="375.50" width="10.00" height="16.00" fill="#fff" stroke="#000" stroke-width="2.0"/>
<line x1="621.00" y1="375.00" x2="634.40" y2="375.00" stroke="#000" stroke-width="1.4"/>
<line x1="627.70" y1="371.75" x2="627.70" y2="374.50" stroke="#222" stroke-width="1.0"/>
<line x1="624.40" y1="371.75" x2="631.00" y2="371.75" stroke="#222" stroke-width="1.0"/>
<line x1="619.50" y1="391.50" x2="619.50" y2="394.90" stroke="#000" stroke-width="1.5"/>
<text x="627.9999999999999" y="372.85" font-size="13.8" font-weight="bold" text-anchor="middle" fill="#222">*</text>
<line x1="422.50" y1="259.35" x2="422.50" y2="392.25" stroke="#000" stroke-width="1.5"/>
<line x1="419.30" y1="260.10" x2="422.50" y2="260.10" stroke="#000" stroke-width="1.5"/>
<text x="418.4" y="263.26800000000003" font-size="8.8" font-weight="bold" text-anchor="end" fill="#000" textLength="14.6" lengthAdjust="spacingAndGlyphs">1.5</text>
<line x1="419.30" y1="303.90" x2="422.50" y2="303.90" stroke="#000" stroke-width="1.5"/>
<text x="418.4" y="307.068" font-size="8.8" font-weight="bold" text-anchor="end" fill="#000" textLength="14.6" lengthAdjust="spacingAndGlyphs">1.0</text>
<line x1="419.30" y1="347.70" x2="422.50" y2="347.70" stroke="#000" stroke-width="1.5"/>
<text x="418.4" y="350.868" font-size="8.8" font-weight="bold" text-anchor="end" fill="#000" textLength="14.6" lengthAdjust="spacingAndGlyphs">0.5</text>
<line x1="419.30" y1="391.50" x2="422.50" y2="391.50" stroke="#000" stroke-width="1.5"/>
<text x="418.4" y="394.668" font-size="8.8" font-weight="bold" text-anchor="end" fill="#000" textLength="14.6" lengthAdjust="spacingAndGlyphs">0.0</text>
<text transform="translate(396.8,325.5) rotate(-90)" font-size="14.0" font-weight="bold" text-anchor="middle" fill="#000" textLength="110" lengthAdjust="spacingAndGlyphs">Target mRNA levels</text>
<rect x="601.40" y="260.20" width="12.70" height="8.40" fill="#000"/>
<rect x="602.6" y="277.5" width="10.3" height="5.9" fill="#fff" stroke="#000" stroke-width="2.7"/>
<line x1="600.60" y1="260.80" x2="614.90" y2="260.80" stroke="#000" stroke-width="1.4"/>
<line x1="600.60" y1="276.90" x2="614.90" y2="276.90" stroke="#000" stroke-width="1.6"/>
<text x="621.3" y="267.7" font-size="10.5" font-weight="bold" text-anchor="start" fill="#000" textLength="42" lengthAdjust="spacingAndGlyphs">Control</text>
<text x="621.3" y="283.9" font-size="10.5" font-weight="bold" text-anchor="start" fill="#000" textLength="52" lengthAdjust="spacingAndGlyphs">Orexin B</text>
<text transform="translate(447.09999999999997,402.9) scale(1.18,1) rotate(-45)" font-size="10.6" font-weight="bold" text-anchor="end" fill="#000">ACC</text>
<text transform="translate(491.09999999999997,402.9) scale(1.18,1) rotate(-45)" font-size="10.6" font-weight="bold" text-anchor="end" fill="#000">FASN</text>
<text transform="translate(535.45,402.9) scale(1.18,1) rotate(-45)" font-size="10.6" font-weight="bold" text-anchor="end" fill="#000">ACLY</text>
<text transform="translate(579.7,402.9) scale(1.18,1) rotate(-45)" font-size="10.6" font-weight="bold" text-anchor="end" fill="#000">ME</text>
<text transform="translate(623.7,402.9) scale(1.18,1) rotate(-45)" font-size="10.6" font-weight="bold" text-anchor="end" fill="#000">SCD-1</text>
<text x="19.8" y="474.9" font-size="18" font-weight="bold" text-anchor="start" fill="#000">f</text>
<rect x="60.50" y="577.00" width="11.50" height="78.30" fill="#ff8000"/>
<line x1="66.25" y1="574.50" x2="66.25" y2="577.00" stroke="#ff8000" stroke-width="1.0"/>
<line x1="63.15" y1="574.50" x2="69.35" y2="574.50" stroke="#ff8000" stroke-width="1.0"/>
<rect x="78.00" y="560.75" width="11.50" height="94.55" fill="#00ff00"/>
<line x1="83.75" y1="556.25" x2="83.75" y2="560.75" stroke="#00ff00" stroke-width="1.0"/>
<line x1="80.65" y1="556.25" x2="86.85" y2="556.25" stroke="#00ff00" stroke-width="1.0"/>
<line x1="75.00" y1="655.30" x2="75.00" y2="659.50" stroke="#000" stroke-width="1.8"/>
<text x="83.95" y="558.25" font-size="21" font-weight="bold" text-anchor="middle" fill="#000">*</text>
<rect x="107.00" y="577.50" width="11.50" height="77.80" fill="#ff8000"/>
<line x1="112.75" y1="571.25" x2="112.75" y2="577.50" stroke="#ff8000" stroke-width="1.0"/>
<line x1="109.65" y1="571.25" x2="115.85" y2="571.25" stroke="#ff8000" stroke-width="1.0"/>
<rect x="124.50" y="533.75" width="11.50" height="121.55" fill="#00ff00"/>
<line x1="130.25" y1="526.25" x2="130.25" y2="533.75" stroke="#00ff00" stroke-width="1.0"/>
<line x1="127.15" y1="526.25" x2="133.35" y2="526.25" stroke="#00ff00" stroke-width="1.0"/>
<line x1="121.50" y1="655.30" x2="121.50" y2="659.50" stroke="#000" stroke-width="1.8"/>
<text x="130.45" y="528.25" font-size="21" font-weight="bold" text-anchor="middle" fill="#000">*</text>
<rect x="153.75" y="572.00" width="11.50" height="83.30" fill="#ff8000"/>
<line x1="159.50" y1="561.25" x2="159.50" y2="572.00" stroke="#ff8000" stroke-width="1.0"/>
<line x1="156.40" y1="561.25" x2="162.60" y2="561.25" stroke="#ff8000" stroke-width="1.0"/>
<rect x="171.25" y="583.25" width="11.50" height="72.05" fill="#00ff00"/>
<line x1="177.00" y1="570.50" x2="177.00" y2="583.25" stroke="#00ff00" stroke-width="1.0"/>
<line x1="173.90" y1="570.50" x2="180.10" y2="570.50" stroke="#00ff00" stroke-width="1.0"/>
<line x1="168.25" y1="655.30" x2="168.25" y2="659.50" stroke="#000" stroke-width="1.8"/>
<rect x="200.25" y="575.00" width="11.50" height="80.30" fill="#ff8000"/>
<line x1="206.00" y1="566.25" x2="206.00" y2="575.00" stroke="#ff8000" stroke-width="1.0"/>
<line x1="202.90" y1="566.25" x2="209.10" y2="566.25" stroke="#ff8000" stroke-width="1.0"/>
<rect x="217.75" y="595.75" width="11.50" height="59.55" fill="#00ff00"/>
<line x1="223.50" y1="589.50" x2="223.50" y2="595.75" stroke="#00ff00" stroke-width="1.0"/>
<line x1="220.40" y1="589.50" x2="226.60" y2="589.50" stroke="#00ff00" stroke-width="1.0"/>
<line x1="214.75" y1="655.30" x2="214.75" y2="659.50" stroke="#000" stroke-width="1.8"/>
<rect x="247.00" y="568.75" width="11.50" height="86.55" fill="#ff8000"/>
<line x1="252.75" y1="553.25" x2="252.75" y2="568.75" stroke="#ff8000" stroke-width="1.0"/>
<line x1="249.65" y1="553.25" x2="255.85" y2="553.25" stroke="#ff8000" stroke-width="1.0"/>
<rect x="264.50" y="573.25" width="11.50" height="82.05" fill="#00ff00"/>
<line x1="270.25" y1="560.25" x2="270.25" y2="573.25" stroke="#00ff00" stroke-width="1.0"/>
<line x1="267.15" y1="560.25" x2="273.35" y2="560.25" stroke="#00ff00" stroke-width="1.0"/>
<line x1="261.50" y1="655.30" x2="261.50" y2="659.50" stroke="#000" stroke-width="1.8"/>
<line x1="50.90" y1="655.30" x2="283.75" y2="655.30" stroke="#000" stroke-width="2.2"/>
<line x1="51.90" y1="501.45" x2="51.90" y2="656.35" stroke="#000" stroke-width="2.1"/>
<line x1="47.90" y1="502.50" x2="51.90" y2="502.50" stroke="#000" stroke-width="2.1"/>
<text x="46.9" y="507.14399999999995" font-size="12.9" font-weight="bold" text-anchor="end" fill="#000">2.0</text>
<line x1="47.90" y1="540.70" x2="51.90" y2="540.70" stroke="#000" stroke-width="2.1"/>
<text x="46.9" y="545.3439999999999" font-size="12.9" font-weight="bold" text-anchor="end" fill="#000">1.5</text>
<line x1="47.90" y1="578.90" x2="51.90" y2="578.90" stroke="#000" stroke-width="2.1"/>
<text x="46.9" y="583.544" font-size="12.9" font-weight="bold" text-anchor="end" fill="#000">1.0</text>
<line x1="47.90" y1="617.10" x2="51.90" y2="617.10" stroke="#000" stroke-width="2.1"/>
<text x="46.9" y="621.7439999999999" font-size="12.9" font-weight="bold" text-anchor="end" fill="#000">0.5</text>
<line x1="47.90" y1="655.30" x2="51.90" y2="655.30" stroke="#000" stroke-width="2.1"/>
<text x="46.9" y="659.944" font-size="12.9" font-weight="bold" text-anchor="end" fill="#000">0.0</text>
<text transform="translate(20.4,577) rotate(-90)" font-size="15.6" font-weight="bold" text-anchor="middle" fill="#000" textLength="101.5" lengthAdjust="spacingAndGlyphs">mRNA levels</text>
<rect x="212.00" y="498.75" width="17.00" height="8.25" fill="#ff8000"/>
<rect x="212.00" y="513.75" width="17.00" height="8.00" fill="#00ff00"/>
<text x="238" y="507.5" font-size="12.6" font-weight="bold" text-anchor="start" fill="#000" textLength="43.8" lengthAdjust="spacingAndGlyphs">Control</text>
<text x="238" y="522.1" font-size="12.6" font-weight="bold" text-anchor="start" fill="#000" textLength="52.5" lengthAdjust="spacingAndGlyphs">Orexin A</text>
<text x="135" y="724.7" font-size="14" font-weight="bold" text-anchor="start" fill="#000" textLength="67" lengthAdjust="spacingAndGlyphs">Target TF</text>
<text transform="translate(79.2,670.5) rotate(-45)" font-size="11.4" font-weight="bold" text-anchor="end" fill="#000">SREBP-1</text>
<text transform="translate(125.60000000000001,670.5) rotate(-45)" font-size="11.4" font-weight="bold" text-anchor="end" fill="#000">SREBP-2</text>
<text transform="translate(172.45,670.5) rotate(-45)" font-size="11.4" font-weight="bold" text-anchor="end" fill="#000">INSIG-2</text>
<text transform="translate(219.1,670.5) rotate(-45)" font-size="11.4" font-weight="bold" text-anchor="end" fill="#000">PPAR<tspan font-weight="normal" font-size="9.69">α</tspan></text>
<text transform="translate(265.7,670.5) rotate(-45)" font-size="11.4" font-weight="bold" text-anchor="end" fill="#000">PPAR<tspan font-weight="normal" font-size="9.69">γ</tspan></text>
<text x="364.6" y="465.0" font-size="18" font-weight="bold" text-anchor="start" fill="#000">g</text>
<rect x="420.50" y="568.25" width="11.50" height="78.15" fill="#ff8000"/>
<line x1="426.25" y1="565.50" x2="426.25" y2="568.25" stroke="#ff8000" stroke-width="1.0"/>
<line x1="423.15" y1="565.50" x2="429.35" y2="565.50" stroke="#ff8000" stroke-width="1.0"/>
<rect x="438.25" y="572.50" width="11.40" height="73.90" fill="#00ff00"/>
<line x1="443.95" y1="565.25" x2="443.95" y2="572.50" stroke="#00ff00" stroke-width="1.0"/>
<line x1="440.85" y1="565.25" x2="447.05" y2="565.25" stroke="#00ff00" stroke-width="1.0"/>
<line x1="435.07" y1="646.40" x2="435.07" y2="650.60" stroke="#000" stroke-width="1.8"/>
<rect x="467.10" y="569.25" width="11.50" height="77.15" fill="#ff8000"/>
<line x1="472.85" y1="562.50" x2="472.85" y2="569.25" stroke="#ff8000" stroke-width="1.0"/>
<line x1="469.75" y1="562.50" x2="475.95" y2="562.50" stroke="#ff8000" stroke-width="1.0"/>
<rect x="484.85" y="510.50" width="11.40" height="135.90" fill="#00ff00"/>
<line x1="490.55" y1="502.50" x2="490.55" y2="510.50" stroke="#00ff00" stroke-width="1.0"/>
<line x1="487.45" y1="502.50" x2="493.65" y2="502.50" stroke="#00ff00" stroke-width="1.0"/>
<line x1="481.68" y1="646.40" x2="481.68" y2="650.60" stroke="#000" stroke-width="1.8"/>
<text x="490.75" y="504.5" font-size="21" font-weight="bold" text-anchor="middle" fill="#000">*</text>
<rect x="513.75" y="563.00" width="11.50" height="83.40" fill="#ff8000"/>
<line x1="519.50" y1="552.25" x2="519.50" y2="563.00" stroke="#ff8000" stroke-width="1.0"/>
<line x1="516.40" y1="552.25" x2="522.60" y2="552.25" stroke="#ff8000" stroke-width="1.0"/>
<rect x="531.50" y="568.75" width="11.40" height="77.65" fill="#00ff00"/>
<line x1="537.20" y1="557.25" x2="537.20" y2="568.75" stroke="#00ff00" stroke-width="1.0"/>
<line x1="534.10" y1="557.25" x2="540.30" y2="557.25" stroke="#00ff00" stroke-width="1.0"/>
<line x1="528.33" y1="646.40" x2="528.33" y2="650.60" stroke="#000" stroke-width="1.8"/>
<rect x="560.30" y="566.25" width="11.50" height="80.15" fill="#ff8000"/>
<line x1="566.05" y1="557.25" x2="566.05" y2="566.25" stroke="#ff8000" stroke-width="1.0"/>
<line x1="562.95" y1="557.25" x2="569.15" y2="557.25" stroke="#ff8000" stroke-width="1.0"/>
<rect x="578.05" y="587.50" width="11.40" height="58.90" fill="#00ff00"/>
<line x1="583.75" y1="584.50" x2="583.75" y2="587.50" stroke="#00ff00" stroke-width="1.0"/>
<line x1="580.65" y1="584.50" x2="586.85" y2="584.50" stroke="#00ff00" stroke-width="1.0"/>
<line x1="574.88" y1="646.40" x2="574.88" y2="650.60" stroke="#000" stroke-width="1.8"/>
<rect x="607.00" y="560.00" width="11.50" height="86.40" fill="#ff8000"/>
<line x1="612.75" y1="544.25" x2="612.75" y2="560.00" stroke="#ff8000" stroke-width="1.0"/>
<line x1="609.65" y1="544.25" x2="615.85" y2="544.25" stroke="#ff8000" stroke-width="1.0"/>
<rect x="624.75" y="590.25" width="11.40" height="56.15" fill="#00ff00"/>
<line x1="630.45" y1="586.25" x2="630.45" y2="590.25" stroke="#00ff00" stroke-width="1.0"/>
<line x1="627.35" y1="586.25" x2="633.55" y2="586.25" stroke="#00ff00" stroke-width="1.0"/>
<line x1="621.58" y1="646.40" x2="621.58" y2="650.60" stroke="#000" stroke-width="1.8"/>
<line x1="414.10" y1="646.40" x2="644.00" y2="646.40" stroke="#000" stroke-width="2.2"/>
<line x1="415.10" y1="492.95" x2="415.10" y2="647.45" stroke="#000" stroke-width="2.1"/>
<line x1="411.10" y1="494.00" x2="415.10" y2="494.00" stroke="#000" stroke-width="2.1"/>
<text x="408.0" y="498.644" font-size="12.9" font-weight="bold" text-anchor="end" fill="#000" textLength="19.6" lengthAdjust="spacingAndGlyphs">2.0</text>
<line x1="411.10" y1="532.10" x2="415.10" y2="532.10" stroke="#000" stroke-width="2.1"/>
<text x="408.0" y="536.7439999999999" font-size="12.9" font-weight="bold" text-anchor="end" fill="#000" textLength="19.6" lengthAdjust="spacingAndGlyphs">1.5</text>
<line x1="411.10" y1="570.20" x2="415.10" y2="570.20" stroke="#000" stroke-width="2.1"/>
<text x="408.0" y="574.8439999999999" font-size="12.9" font-weight="bold" text-anchor="end" fill="#000" textLength="19.6" lengthAdjust="spacingAndGlyphs">1.0</text>
<line x1="411.10" y1="608.30" x2="415.10" y2="608.30" stroke="#000" stroke-width="2.1"/>
<text x="408.0" y="612.944" font-size="12.9" font-weight="bold" text-anchor="end" fill="#000" textLength="19.6" lengthAdjust="spacingAndGlyphs">0.5</text>
<line x1="411.10" y1="646.40" x2="415.10" y2="646.40" stroke="#000" stroke-width="2.1"/>
<text x="408.0" y="651.044" font-size="12.9" font-weight="bold" text-anchor="end" fill="#000" textLength="19.6" lengthAdjust="spacingAndGlyphs">0.0</text>
<text transform="translate(380.2,568) rotate(-90)" font-size="15.6" font-weight="bold" text-anchor="middle" fill="#000" textLength="101.8" lengthAdjust="spacingAndGlyphs">mRNA levels</text>
<rect x="563.75" y="492.00" width="16.25" height="8.25" fill="#ff8000"/>
<rect x="563.75" y="507.50" width="16.25" height="8.00" fill="#00ff00"/>
<text x="589.4" y="500.6" font-size="12.6" font-weight="bold" text-anchor="start" fill="#000" textLength="43.8" lengthAdjust="spacingAndGlyphs">Control</text>
<text x="589.4" y="516.2" font-size="12.6" font-weight="bold" text-anchor="start" fill="#000" textLength="51.3" lengthAdjust="spacingAndGlyphs">Orexin B</text>
<text x="495.8" y="717.6" font-size="14" font-weight="bold" text-anchor="start" fill="#000" textLength="67.8" lengthAdjust="spacingAndGlyphs">Target TF</text>
<text transform="translate(439.2,661.4) rotate(-45)" font-size="11.3" font-weight="bold" text-anchor="end" fill="#000">SREBP-1</text>
<text transform="translate(485.8,661.4) rotate(-45)" font-size="11.3" font-weight="bold" text-anchor="end" fill="#000">SREBP-2</text>
<text transform="translate(532.45,661.4) rotate(-45)" font-size="11.3" font-weight="bold" text-anchor="end" fill="#000">INSIG-2</text>
<text transform="translate(579.1,661.4) rotate(-45)" font-size="11.3" font-weight="bold" text-anchor="end" fill="#000">PPAR<tspan font-weight="normal" font-size="9.605">α</tspan></text>
<text transform="translate(625.8000000000001,661.4) rotate(-45)" font-size="11.3" font-weight="bold" text-anchor="end" fill="#000">PPAR<tspan font-weight="normal" font-size="9.605">γ</tspan></text>
</svg></body></html>
